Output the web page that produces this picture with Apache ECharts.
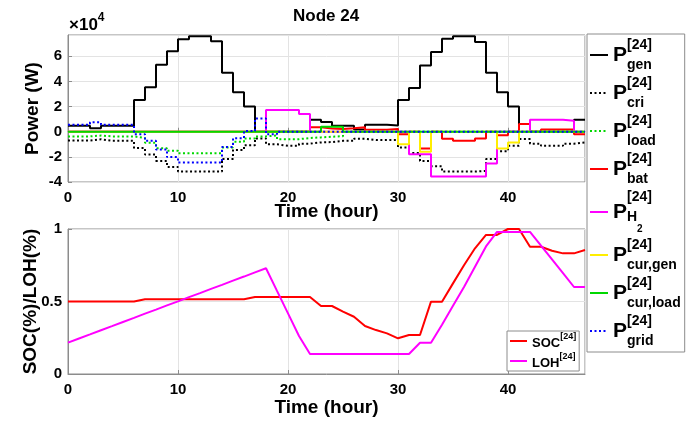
<!DOCTYPE html>
<html>
<head>
<meta charset="utf-8">
<script src="https://cdn.jsdelivr.net/npm/echarts@6/dist/echarts.min.js"></script>
<style>
  html, body { margin: 0; padding: 0; background: #fff; }
  #chart { width: 691px; height: 425px; }
</style>
</head>
<body>
<div id="chart"></div>
<script>
// hours 0..47 (one value per hour), powers in units of 1e4 W
const hours = Array.from({length: 48}, (_, i) => i);

const pGen = [0.48, 0.48, 0.27, 0.48, 0.48, 0.48, 2.53, 3.55, 5.33, 6.40, 7.36, 7.60, 7.60, 7.20, 4.70, 3.15,
  2.00, 0, 0, 0, 0, 0, 0.96, 0.78, 0.48, 0.48, 0.18, 0.55, 0.55, 0.50, 2.53, 3.49,
  5.28, 6.35, 7.41, 7.60, 7.60, 7.15, 4.69, 3.15, 2.00, 0.61, 0, 0, 0, 0, 0.96, 0.96];
const pCri = [-0.70, -0.70, -0.60, -0.72, -0.72, -0.72, -1.30, -1.82, -2.32, -2.80, -3.17, -3.17, -3.17, -3.17, -2.17, -1.45,
  -1.07, -0.53, -1.00, -1.12, -1.12, -0.95, -0.85, -0.82, -0.72, -0.72, -0.55, -0.66, -0.66, -0.66, -1.25, -1.70,
  -2.32, -2.75, -3.17, -3.17, -3.17, -3.12, -2.17, -1.55, -1.12, -0.58, -0.95, -1.12, -1.12, -0.95, -0.85, -0.82];
const pLoad = [-0.37, -0.37, -0.30, -0.37, -0.37, -0.37, -0.50, -0.87, -1.31, -1.52, -1.72, -1.72, -1.72, -1.72, -1.25, -0.80,
  -0.53, -0.37, -0.30, -0.59, -0.59, -0.50, -0.45, -0.40, -0.35, 0, 0, 0, 0, 0, 0, 0,
  0, 0, 0, 0, 0, 0, 0, 0, 0, 0, 0, 0, 0, 0, 0, 0];
const pBat = [0, 0, 0, 0, 0, 0, 0, 0, 0, 0, 0, 0, 0, 0, 0, 0,
  0, 0, 0, 0, 0, 0, 0.35, 0.25, 0.22, 0.28, 0.35, 0.15, 0.15, 0.22, -0.20, 0,
  -1.33, 0, -0.55, -0.72, -0.72, -0.53, 0, -0.27, 0, 0.61, 0, 0.18, 0.18, 0.18, -0.19, -0.19];
const pH2 = [0, 0, 0, 0, 0, 0, 0, 0, 0, 0, 0, 0, 0, 0, 0, 0,
  0, 0, 1.73, 1.73, 1.73, 1.41, 0, 0, 0, 0, 0, 0, 0, 0, 0, -1.80,
  -1.80, -3.57, -3.57, -3.57, -3.57, -3.57, -2.53, 0, 0, 0, 0.96, 0.96, 0.96, 0.88, 0, 0];
const pCurGen = [0, 0, 0, 0, 0, 0, 0, 0, 0, 0, 0, 0, 0, 0, 0, 0,
  0, 0, 0, 0, 0, 0, 0, 0, 0, 0, 0, 0, 0, 0, -1.00, 0,
  -1.60, 0, 0, 0, 0, 0, 0, -1.33, -0.85, 0, 0, 0, 0, 0, 0, 0];
const pCurLoad = [0, 0, 0, 0, 0, 0, 0, 0, 0, 0, 0, 0, 0, 0, 0, 0,
  0, 0, 0, 0, 0, 0, 0, 0.40, 0.40, 0, 0, 0, 0, 0, 0, 0,
  0, 0, 0, 0, 0, 0, 0, 0, 0, 0, 0, 0, 0, 0, 0, 0];
const pGrid = [0.56, 0.56, 0.75, 0.56, 0.56, 0.56, -0.19, -0.72, -1.42, -2.02, -2.45, -2.45, -2.45, -2.45, -1.22, -0.52,
  0.05, 1.05, -0.20, 0, 0, 0, 0, 0, 0, 0, 0, 0, 0, 0, 0, 0,
  0, 0, 0, 0, 0, 0, 0, 0, 0, 0, 0, 0, 0, 0, 0, 0];

const soc = [0.50, 0.50, 0.50, 0.50, 0.50, 0.50, 0.50, 0.516, 0.516, 0.516, 0.516, 0.516, 0.516, 0.516, 0.516, 0.516,
  0.516, 0.531, 0.531, 0.531, 0.531, 0.531, 0.531, 0.469, 0.469, 0.43, 0.395, 0.331, 0.303, 0.28, 0.246, 0.269,
  0.269, 0.499, 0.499, 0.625, 0.75, 0.867, 0.959, 0.959, 1.0, 1.0, 0.878, 0.878, 0.85, 0.832, 0.832, 0.855];
const loh = [0.216, 0.245, 0.273, 0.302, 0.330, 0.359, 0.387, 0.416, 0.444, 0.473, 0.501, 0.530, 0.558, 0.587, 0.615, 0.644,
  0.672, 0.701, 0.729, 0.573, 0.418, 0.262, 0.138, 0.138, 0.138, 0.138, 0.138, 0.138, 0.138, 0.138, 0.138, 0.138,
  0.216, 0.216, 0.34, 0.47, 0.60, 0.74, 0.88, 0.98, 0.98, 0.98, 0.98, 0.885, 0.79, 0.695, 0.60, 0.60];

const powerTicks = [-4, 7.7, 2];   // min, max, step of the power axis
const socTicks = [0, 1, 0.5];

const FONT = '"Liberation Sans", Arial, sans-serif';
const AXIS_COLOR = '#8c8c8c';
const GRID_COLOR = '#e3e3e3';
const DOT = [2, 2.5];

function pairs(vals) {
  return vals.map(function (v, i) { return [hours[i], v]; });
}

function stairs(name, vals, color, dotted) {
  return {
    name: name,
    type: 'line',
    xAxisIndex: 0,
    yAxisIndex: 0,
    step: 'end',
    symbol: 'none',
    animation: false,
    data: pairs(vals),
    lineStyle: { color: color, width: 2, type: dotted ? DOT : 'solid' },
    itemStyle: { color: color }
  };
}

function xAxisOf(idx, gap) {
  return {
    type: 'value', gridIndex: idx, min: 0, max: 47, interval: 10,
    axisLine: { show: true, lineStyle: { color: AXIS_COLOR } },
    axisTick: { show: true, inside: true, length: 4, lineStyle: { color: AXIS_COLOR } },
    axisLabel: { color: '#000', fontSize: 15, fontWeight: 'bold', fontFamily: FONT, margin: 8, showMaxLabel: false },
    splitLine: { show: true, lineStyle: { color: GRID_COLOR } },
    name: 'Time (hour)', nameLocation: 'middle', nameGap: gap, nameMoveOverlap: false,
    nameTextStyle: { color: '#000', fontSize: 19, fontWeight: 'bold', fontFamily: FONT }
  };
}

function yAxisOf(idx, ticks, name, gap) {
  return {
    type: 'value', gridIndex: idx, min: ticks[0], max: ticks[1], interval: ticks[2],
    axisLine: { show: true, lineStyle: { color: AXIS_COLOR } },
    axisTick: { show: true, inside: true, length: 4, lineStyle: { color: AXIS_COLOR } },
    axisLabel: { color: '#000', fontSize: 15, fontWeight: 'bold', fontFamily: FONT, margin: 6, showMaxLabel: idx === 1 },
    splitLine: { show: true, lineStyle: { color: GRID_COLOR } },
    name: name, nameLocation: 'middle', nameGap: gap, nameRotate: 90, nameMoveOverlap: false,
    nameTextStyle: { color: '#000', fontSize: 19, fontWeight: 'bold', fontFamily: FONT }
  };
}

const legendRich = {
  p: { fontSize: 21, fontWeight: 'bold', fontFamily: FONT, lineHeight: 34, verticalAlign: 'middle', color: '#000' },
  pH: { fontSize: 21, fontWeight: 'bold', fontFamily: FONT, lineHeight: 44, verticalAlign: 'middle', color: '#000' },
  sup: { fontSize: 14, fontWeight: 'bold', fontFamily: FONT, lineHeight: 16, verticalAlign: 'top', width: 0, color: '#000' },
  sub: { fontSize: 14, fontWeight: 'bold', fontFamily: FONT, lineHeight: 16, verticalAlign: 'bottom', color: '#000' },
  subH: { fontSize: 14, fontWeight: 'bold', fontFamily: FONT, lineHeight: 16, verticalAlign: 'bottom', padding: [0, 0, 10, 0], color: '#000' },
  sub2: { fontSize: 10, fontWeight: 'bold', fontFamily: FONT, lineHeight: 12, verticalAlign: 'bottom', color: '#000' }
};

const smallRich = {
  n: { fontSize: 13, fontWeight: 'bold', fontFamily: FONT, lineHeight: 18, verticalAlign: 'bottom', color: '#000' },
  s: { fontSize: 9, fontWeight: 'bold', fontFamily: FONT, lineHeight: 12, verticalAlign: 'top', color: '#000' }
};

const myChart = echarts.init(document.getElementById('chart'), null, { renderer: 'canvas' });

const option = {
  backgroundColor: '#fff',
  animation: false,
  title: [
    { text: 'Node 24', left: 293, top: 8, padding: 0,
      textStyle: { fontSize: 17, fontWeight: 'bold', fontFamily: FONT, color: '#000' } },
    { text: '{a|×10}{b|4}', left: 69, top: 12, padding: 0,
      textStyle: { rich: {
        a: { fontSize: 17, fontFamily: FONT, color: '#000', lineHeight: 22, verticalAlign: 'bottom' },
        b: { fontSize: 12, fontFamily: FONT, color: '#000', lineHeight: 14, verticalAlign: 'top' }
      } } }
  ],
  grid: [
    { left: 68, top: 35, width: 517, height: 147, show: true, borderColor: AXIS_COLOR, borderWidth: 1, backgroundColor: '#fff' },
    { left: 68, top: 229, width: 517, height: 145, show: true, borderColor: AXIS_COLOR, borderWidth: 1, backgroundColor: '#fff' }
  ],
  xAxis: [xAxisOf(0, 20), xAxisOf(1, 24)],
  yAxis: [yAxisOf(0, powerTicks, 'Power (W)', 26), yAxisOf(1, socTicks, 'SOC(%)/LOH(%)', 28)],
  legend: [
    {
      orient: 'vertical', left: 587, top: 34, padding: [4, 4, 4, 2], itemGap: 4,
      itemWidth: 18, itemHeight: 14, selectedMode: false,
      backgroundColor: '#fff', borderColor: AXIS_COLOR, borderWidth: 1,
      itemStyle: { opacity: 0 },
      lineStyle: { width: 2 },
      data: ['gen', 'cri', 'load', 'bat', 'H2', 'cur,gen', 'cur,load', 'grid'],
      formatter: function (name) {
        if (name === 'H2') {
          return '{pH|P}{sup|[24]}{subH|H}{sub2|2}';
        }
        return '{p|P}{sup|[24]}{sub|' + name + '}';
      },
      textStyle: { rich: legendRich }
    },
    {
      orient: 'vertical', left: 507, top: 331, padding: [1, 3, 1, 2], itemGap: 2,
      itemWidth: 17, itemHeight: 12, selectedMode: false,
      backgroundColor: '#fff', borderColor: AXIS_COLOR, borderWidth: 1,
      itemStyle: { opacity: 0 },
      lineStyle: { width: 2 },
      data: ['SOC', 'LOH'],
      formatter: function (name) {
        return '{n|' + name + '}{s|[24]}';
      },
      textStyle: { rich: smallRich }
    }
  ],
  series: [
    stairs('gen', pGen, '#000000', false),
    stairs('cri', pCri, '#000000', true),
    stairs('load', pLoad, '#00d800', true),
    stairs('bat', pBat, '#ff0000', false),
    stairs('H2', pH2, '#ff00ff', false),
    stairs('cur,gen', pCurGen, '#ffee00', false),
    stairs('cur,load', pCurLoad, '#00d800', false),
    stairs('grid', pGrid, '#0000ff', true),
    {
      name: 'SOC', type: 'line', xAxisIndex: 1, yAxisIndex: 1, symbol: 'none',
      data: pairs(soc), lineStyle: { color: '#ff0000', width: 2 }, itemStyle: { color: '#ff0000' }
    },
    {
      name: 'LOH', type: 'line', xAxisIndex: 1, yAxisIndex: 1, symbol: 'none',
      data: pairs(loh), lineStyle: { color: '#ff00ff', width: 2 }, itemStyle: { color: '#ff00ff' }
    }
  ]
};

myChart.setOption(option);
</script>
</body>
</html>
